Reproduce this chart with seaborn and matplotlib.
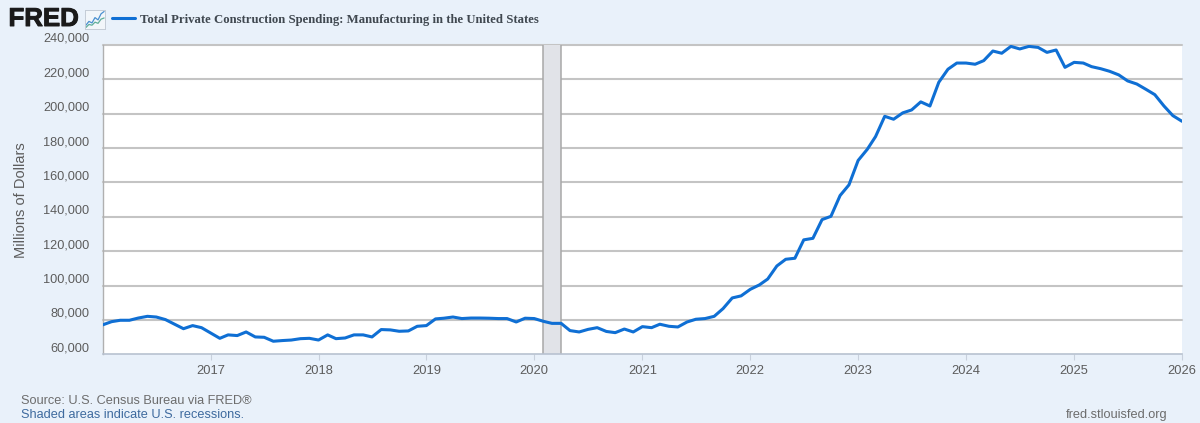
import pandas as pd
import matplotlib
matplotlib.use("Agg")
import matplotlib.pyplot as plt
import matplotlib.patheffects as pe
import seaborn as sns
from matplotlib.ticker import FuncFormatter
from matplotlib.transforms import ScaledTranslation

# monthly values, Jan 2016 to Jan 2026
spending = [
    77100, 79000, 79800, 79800, 81100, 82100, 81700, 80200, 77500, 74900, 76700, 75500,
    72400, 69300, 71300, 70900, 73000, 70100, 69900, 67600, 68000, 68300, 69100, 69300,
    68300, 71300, 69100, 69500, 71300, 71300, 70100, 74400, 74200, 73400, 73600, 76300,
    76700, 80600, 81000, 81700, 80800, 81100, 81100, 81000, 80800, 80800, 78800, 81000,
    80800, 79200, 78000, 78000, 73800, 73000, 74500, 75500, 73300, 72600, 74700, 73000,
    76100, 75500, 77500, 76300, 75900, 78800, 80400, 80800, 82100, 86600, 92800, 94000,
    97800, 100400, 103800, 111400, 115300, 115900, 126600, 127500, 138400, 140300, 152400, 158600,
    172800, 179300, 186700, 198500, 196800, 200500, 202200, 206900, 204500, 218300, 225900, 229500,
    229500, 228800, 230900, 236500, 235200, 239200, 237700, 239200, 238600, 235700, 237100, 227000,
    229900, 229500, 227400, 226200, 224700, 222600, 219100, 217300, 214200, 211100, 204500, 198900,
    195600,
]
months = pd.date_range("2016-01-01", "2026-01-01", freq="MS")
year_ticks = pd.date_range("2017-01-01", "2026-01-01", freq="YS")
value_ticks = list(range(60000, 240001, 20000))
recession = (pd.Timestamp("2020-02-01"), pd.Timestamp("2020-04-01"))
series_name = "Total Private Construction Spending: Manufacturing in the United States"

# little chart icon next to the logo
icon_a = [1, 2, 1.6, 3, 2.4, 4, 4.6]
icon_b = [0.4, 1.2, 1, 1.8, 1.5, 2.6, 2.9]

BG = "#e9f1fa"
BLUE = "#0f6fd4"
GRID = "#c4c4c4"
TEXT = "#5c5c5c"

sns.set_theme(style="white")
plt.rcParams["font.family"] = ["Liberation Sans", "DejaVu Sans"]

df = pd.DataFrame({"date": months, "value": spending})

fig = plt.figure(figsize=(12, 4.23), dpi=100, facecolor=BG)
ax = fig.add_axes([102.5 / 1200, 1 - 354.3 / 423, (1182 - 102.5) / 1200, (354.3 - 45) / 423])
ax.set_facecolor("white")

for v in value_ticks[1:]:
    ax.axhline(v, color=GRID, lw=1.5, zorder=1, clip_on=False)

ax.axvspan(recession[0], recession[1], facecolor="#e1e3e8", edgecolor="none", zorder=2)
ax.axvline(recession[0], color="#a8a8a8", lw=1.1, zorder=2)
ax.axvline(recession[1], color="#a8a8a8", lw=1.1, zorder=2)

sns.lineplot(data=df, x="date", y="value", color=BLUE, lw=2.2, ax=ax, zorder=3, legend=False)

ax.set_xlim(months[0], months[-1])
ax.set_ylim(60000, 240000)
ax.set_xlabel("")
ax.set_ylabel("Millions of Dollars", fontsize=10.5, color=TEXT)
ax.yaxis.set_label_coords(-0.069, 0.499)
ax.set_xticks(year_ticks)
ax.set_xticklabels([str(d.year) for d in year_ticks])
ax.set_yticks(value_ticks)
ax.yaxis.set_major_formatter(FuncFormatter(lambda v, _: f"{int(v):,}"))
ax.tick_params(axis="x", length=4, width=0.8, color="#c8d0dc", labelsize=9.3, labelcolor=TEXT, pad=3.5, bottom=True)
ax.tick_params(axis="y", length=0, labelsize=9.2, labelcolor=TEXT, pad=9.5)

# FRED sets the y labels a little above their gridlines
lift = ScaledTranslation(0, 6 / 100, fig.dpi_scale_trans)
for lab in ax.get_yticklabels():
    lab.set_va("center")
    lab.set_transform(lab.get_transform() + lift)

for side in ["top", "right"]:
    ax.spines[side].set_visible(False)
ax.spines["left"].set_color("#b0b0b0")
ax.spines["left"].set_linewidth(1)
ax.spines["bottom"].set_color("#b8c2d0")
ax.spines["bottom"].set_linewidth(1.2)

# header
fig.text(
    8.5 / 1200, 1 - 19 / 423, "FRED", fontsize=18.6, fontweight="bold", color="#1a1a1a", va="center",
    path_effects=[pe.withStroke(linewidth=0.7, foreground="#1a1a1a")],
)

icon = fig.add_axes([85 / 1200, 1 - 29 / 423, 20 / 1200, 19 / 423])
icon.set_facecolor("#f2f6fa")
icon.plot(icon_a, color="#4a90d0", lw=0.9)
icon.plot(icon_b, color="#5fae9a", lw=0.9)
icon.set_xticks([])
icon.set_yticks([])
icon.set_ylim(0, 5)
for sp in icon.spines.values():
    sp.set_color("#c4ccd6")
    sp.set_linewidth(0.7)

fig.legend(
    handles=ax.get_lines()[-1:],
    labels=[series_name],
    loc="center left",
    bbox_to_anchor=(112 / 1200, 1 - 19.5 / 423),
    frameon=False,
    handlelength=1.8,
    handletextpad=0.42,
    borderpad=0,
    borderaxespad=0,
    prop={"family": "Liberation Serif", "weight": "bold", "size": 9.2},
    labelcolor="#404850",
)

# footer
fig.text(21 / 1200, 1 - 400.5 / 423, "Source: U.S. Census Bureau via FRED®", fontsize=9.15, color="#6c6c6c", va="center")
fig.text(21 / 1200, 1 - 414.5 / 423, "Shaded areas indicate U.S. recessions.", fontsize=9.15, color="#3e6a9e", va="center")
fig.text(1167.5 / 1200, 1 - 414.5 / 423, "fred.stlouisfed.org", fontsize=9.15, color="#6c6c6c", va="center", ha="right")

fig.savefig("out.png", dpi=100, facecolor=BG)
